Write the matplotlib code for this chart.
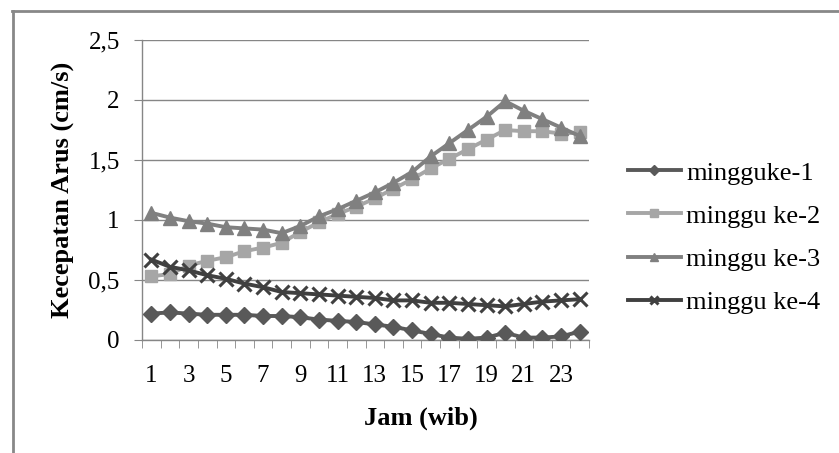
import matplotlib
matplotlib.use("Agg")
import matplotlib.pyplot as plt
from matplotlib.lines import Line2D
import numpy as np

hours = list(range(1, 25))
tick_hours = [1, 3, 5, 7, 9, 11, 13, 15, 17, 19, 21, 23]
y_ticks = [0, 0.5, 1, 1.5, 2, 2.5]
y_tick_labels = ["0", "0,5", "1", "1,5", "2", "2,5"]

minggu1 = [0.22, 0.23, 0.22, 0.21, 0.21, 0.21, 0.20, 0.20, 0.19, 0.17, 0.16, 0.15,
           0.13, 0.11, 0.08, 0.05, 0.02, 0.01, 0.02, 0.06, 0.02, 0.02, 0.03, 0.07]
minggu2 = [0.53, 0.55, 0.62, 0.66, 0.69, 0.74, 0.77, 0.81, 0.90, 0.98, 1.05, 1.11,
           1.18, 1.26, 1.34, 1.43, 1.51, 1.59, 1.67, 1.75, 1.74, 1.74, 1.72, 1.73]
minggu3 = [1.06, 1.02, 0.99, 0.97, 0.94, 0.93, 0.92, 0.89, 0.95, 1.03, 1.09, 1.16,
           1.23, 1.31, 1.40, 1.53, 1.64, 1.75, 1.86, 1.99, 1.91, 1.84, 1.77, 1.70]
minggu4 = [0.67, 0.61, 0.58, 0.54, 0.51, 0.47, 0.44, 0.40, 0.39, 0.38, 0.37, 0.36,
           0.35, 0.33, 0.33, 0.31, 0.31, 0.30, 0.29, 0.28, 0.30, 0.32, 0.33, 0.34]
series_labels = ["mingguke-1", "minggu ke-2", "minggu ke-3", "minggu ke-4"]

plt.rcParams['font.family'] = ['Liberation Serif', 'DejaVu Serif']

fig = plt.figure(figsize=(8.39, 4.53), dpi=100)
ax = fig.add_axes([142/839, 1-340/453, (589-142)/839, 300/453])

lw = 2.8
ax.plot(hours, minggu1, color="#595959", lw=lw, marker="D", ms=8.5, label=series_labels[0], zorder=3)
ax.plot(hours, minggu2, color="#a6a6a6", lw=lw, marker="s", ms=9, label=series_labels[1], zorder=3)
ax.plot(hours, minggu3, color="#808080", lw=lw, marker="^", ms=10, label=series_labels[2], zorder=4)
ax.plot(hours, minggu4, color="#404040", lw=lw, marker="x", ms=10, mew=2.2, label=series_labels[3], zorder=3)

ax.set_xlim(0.5, 24.5)
ax.set_ylim(0, 2.5)
ax.set_yticks(y_ticks)
ax.set_yticklabels(y_tick_labels)
ax.set_xticks(tick_hours)
ax.set_xticklabels([str(h) for h in tick_hours])
ax.set_xticks(np.arange(0.5, 25, 1), minor=True)
ax.tick_params(axis='x', which='major', length=0, pad=18, labelsize=18)
ax.tick_params(axis='x', which='minor', length=6, color="#868686", direction='out')
ax.tick_params(axis='y', length=6, color="#868686", labelsize=18, pad=10)

ax.grid(axis='y', color="#868686", lw=1)
ax.set_axisbelow(True)
for s in ['top', 'right']:
    ax.spines[s].set_visible(False)
for s in ['left', 'bottom']:
    ax.spines[s].set_color("#868686")
    ax.spines[s].set_linewidth(1)

ax.set_ylabel("Kecepatan Arus (cm/s)", fontsize=19, fontweight='bold', va='center')
ax.yaxis.set_label_coords((63-142)/447, 0.5)
ax.set_xlabel("Jam (wib)", fontsize=19, fontweight='bold', va='center')
ax.xaxis.set_label_coords((421-142)/447, (340-418)/300)

leg = ax.legend(loc='center left', bbox_to_anchor=(628/839, 1-237.5/453), bbox_transform=fig.transFigure,
                frameon=False, fontsize=19, handlelength=2.0, handletextpad=0.2,
                labelspacing=0.74, markerscale=0.6, borderaxespad=0, borderpad=0)

# outer frame
fig.add_artist(Line2D([12/839, 1], [1-11/453, 1-11/453], transform=fig.transFigure, color="#888888", lw=2))
fig.add_artist(Line2D([13/839, 13/839], [0, 1-11/453], transform=fig.transFigure, color="#888888", lw=2))

fig.savefig("out.png", dpi=100)
